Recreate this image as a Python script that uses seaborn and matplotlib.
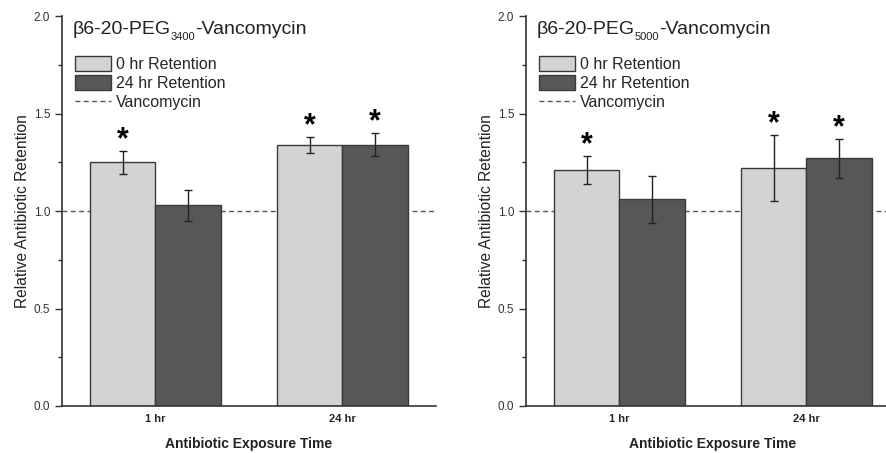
import pandas as pd
import matplotlib
matplotlib.use('Agg')
import matplotlib.pyplot as plt
import seaborn as sns
from matplotlib.patches import Patch
from matplotlib.lines import Line2D
from matplotlib.ticker import MultipleLocator, FormatStrFormatter

# Dados
tempos = ['1 hr', '24 hr']
condicoes = ['0 hr Retention', '24 hr Retention']

peg3400_0h = [1.25, 1.34]
peg3400_24h = [1.03, 1.34]
peg3400_err_0h = [0.06, 0.04]
peg3400_err_24h = [0.08, 0.06]

peg5000_0h = [1.21, 1.22]
peg5000_24h = [1.06, 1.27]
peg5000_err_0h = [0.07, 0.17]
peg5000_err_24h = [0.12, 0.10]

# barras com asterisco (tempo, condicao)
sig3400 = [(0, 0), (1, 0), (1, 1)]
sig5000 = [(0, 0), (1, 0), (1, 1)]

# titulo em partes: texto, subscrito, texto
titulos = [('β6-20-PEG', '3400', '-Vancomycin'), ('β6-20-PEG', '5000', '-Vancomycin')]

claro = '#d3d3d3'
escuro = '#575757'
borda = '#3a3a3a'

sns.set_style('white')
plt.rcParams['font.family'] = ['Liberation Sans', 'DejaVu Sans']


def monta_df(v0, v24, e0, e24):
    linhas = []
    for i, t in enumerate(tempos):
        linhas.append({'Tempo': t, 'Cond': condicoes[0], 'Valor': v0[i], 'Erro': e0[i]})
        linhas.append({'Tempo': t, 'Cond': condicoes[1], 'Valor': v24[i], 'Erro': e24[i]})
    return pd.DataFrame(linhas)


def desenha(ax, df, titulo, sig):
    sns.barplot(data=df, x='Tempo', y='Valor', hue='Cond', order=tempos, hue_order=condicoes,
                palette=[claro, escuro], saturation=1, width=0.7, errorbar=None,
                edgecolor=borda, linewidth=1, legend=False, ax=ax)
    ax.set_xlim(-0.5, 1.5)
    ax.set_ylim(0, 2.0)

    # barras ordenadas pela posicao x -> mesma ordem do df
    barras = sorted([p for p in ax.patches if p.get_height() > 0], key=lambda p: p.get_x())
    for k, p in enumerate(barras):
        cx = p.get_x() + p.get_width() / 2
        v = df['Valor'].iloc[k]
        e = df['Erro'].iloc[k]
        ax.errorbar(cx, v, yerr=e, fmt='none', ecolor='#222222', elinewidth=1, capsize=3, capthick=1, zorder=5)
        i, j = k // 2, k % 2
        if (i, j) in sig:
            ax.text(cx, v + e + 0.055, '*', ha='center', va='center', fontsize=22, fontweight='bold', color='black')

    ax.axhline(1.0, color='#555555', lw=1, ls=(0, (3.5, 2.5)), zorder=0.5)

    # titulo com subscrito menor
    t1 = ax.text(0.029, 0.955, titulo[0], transform=ax.transAxes, ha='left', va='baseline',
                 fontsize=14, color='#222222')
    t2 = ax.annotate(titulo[1], xy=(1, 0), xycoords=t1, xytext=(0, -2), textcoords='offset points',
                     ha='left', va='baseline', fontsize=8, color='#222222')
    ax.annotate(titulo[2], xy=(1, 0), xycoords=(t2, t1), ha='left', va='bottom',
                fontsize=14, color='#222222')

    handles = [Patch(facecolor=claro, edgecolor=borda, lw=1),
               Patch(facecolor=escuro, edgecolor=borda, lw=1),
               Line2D([0], [0], color='#555555', lw=1, ls=(0, (3.5, 2.5)))]
    ax.legend(handles, condicoes + ['Vancomycin'], loc='upper left', bbox_to_anchor=(0.035, 0.897),
              frameon=False, fontsize=11.5, borderpad=0, borderaxespad=0, handlelength=2.25,
              handleheight=1.05, handletextpad=0.3, labelspacing=0.2)

    ax.yaxis.set_major_locator(MultipleLocator(0.5))
    ax.yaxis.set_minor_locator(MultipleLocator(0.25))
    ax.yaxis.set_major_formatter(FormatStrFormatter('%.1f'))
    ax.tick_params(axis='y', which='major', direction='out', length=5, width=1, color='#333333',
                   labelsize=8.5, labelcolor='#333333', left=True)
    ax.tick_params(axis='y', which='minor', direction='out', length=3, width=1, color='#333333', left=True)
    ax.tick_params(axis='x', length=0, pad=6, labelsize=8)
    for lbl in ax.get_xticklabels():
        lbl.set_fontweight('bold')

    sns.despine(ax=ax)
    for s in ['left', 'bottom']:
        ax.spines[s].set_color('#333333')
        ax.spines[s].set_linewidth(1.2)

    ax.set_ylabel('Relative Antibiotic Retention', fontsize=11.2, color='#222222', labelpad=3)
    ax.set_xlabel('Antibiotic Exposure Time', fontsize=10, fontweight='bold', color='#222222', labelpad=9)


fig = plt.figure(figsize=(8.87, 4.53), dpi=100)
W, H = 887, 453
ax1 = fig.add_axes([62 / W, (H - 406) / H, 374 / W, 390 / H])
ax2 = fig.add_axes([526 / W, (H - 406) / H, 374 / W, 390 / H])

desenha(ax1, monta_df(peg3400_0h, peg3400_24h, peg3400_err_0h, peg3400_err_24h), titulos[0], sig3400)
desenha(ax2, monta_df(peg5000_0h, peg5000_24h, peg5000_err_0h, peg5000_err_24h), titulos[1], sig5000)

fig.savefig('out.png', dpi=100)
